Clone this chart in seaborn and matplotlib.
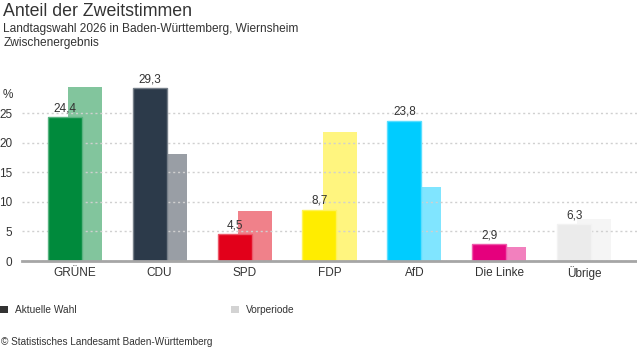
import numpy as np
import pandas as pd
import matplotlib
matplotlib.use("Agg")
import matplotlib.pyplot as plt
import matplotlib.colors as mcolors
from matplotlib.patches import Patch
import seaborn as sns

# Daten
parteien = ["GRÜNE", "CDU", "SPD", "FDP", "AfD", "Die Linke", "Übrige"]
aktuell = [24.4, 29.3, 4.5, 8.7, 23.8, 2.9, 6.3]
vorperiode = [29.4, 18.1, 8.4, 21.9, 12.6, 2.3, 7.2]

farben_aktuell = ["#008a3c", "#2c3a4a", "#e2001a", "#ffed00", "#00ccff", "#e5007d", "#ebebeb"]
farben_vor = ["#82c59d", "#999ea5", "#f0818a", "#fff57f", "#80e5ff", "#f280be", "#f5f5f5"]

y_ticks = [0, 5, 10, 15, 20, 25]

sns.set_style("white")
plt.rcParams["font.family"] = ["Liberation Sans", "DejaVu Sans"]
TEXT = "#333333"

pos = np.arange(len(parteien))
versatz = 0.118
df_akt = pd.DataFrame({"x": pos - versatz, "wert": aktuell, "partei": parteien})
df_vor = pd.DataFrame({"x": pos + versatz, "wert": vorperiode, "partei": parteien})

fig = plt.figure(figsize=(6.37, 3.52), dpi=100)
ax = fig.add_axes([22 / 637, 91 / 352, 615 / 637, 180 / 352])

# Vorperiode (hinten)
sns.barplot(data=df_vor, x="x", y="wert", hue="partei", native_scale=True,
            palette=dict(zip(parteien, farben_vor)), saturation=1, width=0.4,
            legend=False, zorder=1, linewidth=0, ax=ax)
n_vor = len(ax.containers)

# Aktuelle Wahl (vorne)
sns.barplot(data=df_akt, x="x", y="wert", hue="partei", native_scale=True,
            palette=dict(zip(parteien, farben_aktuell)), saturation=1, width=0.4,
            legend=False, zorder=2, ax=ax)

for cont, farbe, wert in zip(ax.containers[n_vor:], farben_aktuell, aktuell):
    rand = mcolors.to_rgb(farbe)
    rand = tuple(c + (1 - c) * 0.35 for c in rand)
    for p in cont:
        p.set_edgecolor(rand)
        p.set_linewidth(1)
    ax.bar_label(cont, labels=[f"{wert:.1f}".replace(".", ",")], padding=2,
                 fontsize=8.5, color=TEXT)

ax.set_xlim(-0.62, len(parteien) - 0.38)
ax.set_ylim(0, 30.5)
ax.set_xticks(pos)
ax.set_xticklabels(parteien)
ax.set_yticks(y_ticks)
ax.set_xlabel("")
ax.set_ylabel("")
ax.tick_params(axis="both", length=0, labelsize=8.5, labelcolor=TEXT)
ax.tick_params(axis="y", pad=7)
ax.tick_params(axis="x", pad=4)

ax.set_axisbelow("line")
ax.yaxis.grid(True, linestyle=(0, (1.5, 2)), color="#d0d0d0", linewidth=1)
ax.xaxis.grid(False)
for s in ["top", "right", "left"]:
    ax.spines[s].set_visible(False)
ax.spines["bottom"].set_color("#a6a6a6")
ax.spines["bottom"].set_linewidth(2)
ax.spines["bottom"].set_zorder(3)

# Titel
fig.text(0.005, 1 - 3 / 352, "Anteil der Zweitstimmen", fontsize=12.8, color=TEXT,
         va="top", ha="left")
fig.text(0.005, 1 - 23 / 352, "Landtagswahl 2026 in Baden-Württemberg, Wiernsheim",
         fontsize=8.6, color=TEXT, va="top", ha="left")
fig.text(0.005, 1 - 37 / 352, "Zwischenergebnis", fontsize=8.6, color=TEXT,
         va="top", ha="left")
fig.text(3 / 637, 1 - 95 / 352, "%", fontsize=8.5, color=TEXT, va="center", ha="left")

# Legende
handles = [Patch(facecolor="#333333", edgecolor="none", label="Aktuelle Wahl"),
           Patch(facecolor="#d3d3d3", edgecolor="none", label="Vorperiode")]
fig.legend(handles=handles, loc="center left", bbox_to_anchor=(0.0, 1 - 310 / 352),
           ncol=2, frameon=False, fontsize=7.3, handlelength=0.79, handleheight=0.79,
           handletextpad=0.69, columnspacing=15.2, labelcolor=TEXT, borderaxespad=0,
           borderpad=0)

fig.text(0.002, 1 - 342 / 352, "© Statistisches Landesamt Baden-Württemberg",
         fontsize=7.2, color=TEXT, va="center", ha="left")

fig.savefig("out.png", dpi=100)
